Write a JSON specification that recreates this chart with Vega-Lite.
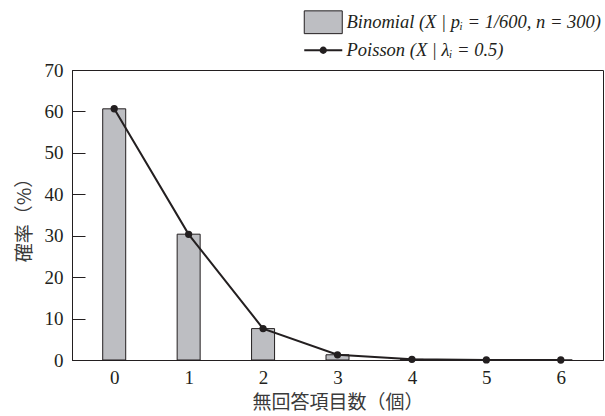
{
  "$schema": "https://vega.github.io/schema/vega-lite/v6.json",
  "autosize": "none",
  "width": 531,
  "height": 290,
  "padding": {"left": 72, "top": 70, "right": 2, "bottom": 56},
  "background": "white",
  "config": {
    "view": {"stroke": "#231f20", "strokeWidth": 1},
    "axis": {
      "labelFont": "Times New Roman",
      "labelFontSize": 19,
      "labelColor": "#231f20",
      "titleFont": "Noto Sans CJK JP",
      "titleFontSize": 19,
      "titleFontWeight": "normal",
      "titleColor": "#3a3a3a",
      "domainColor": "#231f20",
      "tickColor": "#231f20",
      "grid": false
    }
  },
  "data": {
    "values": [
      {"k": 0, "series": "Binomial (X | pᵢ = 1/600, n = 300)", "value": 60.63},
      {"k": 1, "series": "Binomial (X | pᵢ = 1/600, n = 300)", "value": 30.37},
      {"k": 2, "series": "Binomial (X | pᵢ = 1/600, n = 300)", "value": 7.58},
      {"k": 3, "series": "Binomial (X | pᵢ = 1/600, n = 300)", "value": 1.26},
      {"k": 4, "series": "Binomial (X | pᵢ = 1/600, n = 300)", "value": 0.16},
      {"k": 5, "series": "Binomial (X | pᵢ = 1/600, n = 300)", "value": 0.02},
      {"k": 6, "series": "Binomial (X | pᵢ = 1/600, n = 300)", "value": 0.0},
      {"k": 0, "series": "Poisson (X | λᵢ = 0.5)", "value": 60.65},
      {"k": 1, "series": "Poisson (X | λᵢ = 0.5)", "value": 30.33},
      {"k": 2, "series": "Poisson (X | λᵢ = 0.5)", "value": 7.58},
      {"k": 3, "series": "Poisson (X | λᵢ = 0.5)", "value": 1.26},
      {"k": 4, "series": "Poisson (X | λᵢ = 0.5)", "value": 0.16},
      {"k": 5, "series": "Poisson (X | λᵢ = 0.5)", "value": 0.02},
      {"k": 6, "series": "Poisson (X | λᵢ = 0.5)", "value": 0.0}
    ]
  },
  "encoding": {
    "x": {
      "field": "k",
      "type": "quantitative",
      "scale": {"domain": [-0.5, 6.5], "nice": false, "zero": false},
      "axis": {
        "values": [0, 1, 2, 3, 4, 5, 6],
        "format": "d",
        "ticks": false,
        "labelPadding": 8,
        "title": "無回答項目数（個）",
        "titlePadding": 6
      }
    },
    "y": {
      "field": "value",
      "type": "quantitative",
      "scale": {"domain": [0, 70], "nice": false},
      "axis": {
        "values": [0, 10, 20, 30, 40, 50, 60, 70],
        "tickSize": -13,
        "labelPadding": 22,
        "title": "確率（%）",
        "titlePadding": 10
      }
    }
  },
  "layer": [
    {
      "transform": [{"filter": "datum.series === 'Binomial (X | pᵢ = 1/600, n = 300)'"}],
      "mark": {"type": "bar", "size": 23, "stroke": "#231f20", "strokeWidth": 1, "opacity": 1},
      "encoding": {
        "fill": {
          "field": "series",
          "type": "nominal",
          "scale": {
            "domain": ["Binomial (X | pᵢ = 1/600, n = 300)", "Poisson (X | λᵢ = 0.5)"],
            "range": ["#bdbec2", "#231f20"]
          },
          "legend": {
            "title": null,
            "orient": "none",
            "legendX": 242,
            "legendY": -57,
            "padding": 0,
            "rowPadding": 5,
            "labelFont": "Times New Roman",
            "labelFontStyle": "italic",
            "labelFontSize": 18.5,
            "labelColor": "#231f20",
            "labelOffset": 14,
            "labelLimit": 400,
            "symbolSize": 1444,
            "symbolStrokeWidth": 1,
            "encode": {
              "symbols": {
                "update": {
                  "shape": {"signal": "datum.index === 0 ? 'M-1,-0.6H1V0.6H-1Z' : 'M-1,0H1M0.14,0A0.14,0.14,0,1,1,-0.14,0A0.14,0.14,0,1,1,0.14,0Z'"},
                  "strokeWidth": {"signal": "datum.index === 0 ? 1 : 2"},
                  "opacity": {"value": 1}
                }
              }
            }
          }
        }
      }
    },
    {
      "transform": [{"filter": "datum.series === 'Poisson (X | λᵢ = 0.5)'"}],
      "mark": {
        "type": "line",
        "strokeWidth": 2,
        "point": {"filled": true, "size": 28, "color": "#231f20", "opacity": 1}
      },
      "encoding": {
        "stroke": {
          "field": "series",
          "type": "nominal",
          "scale": {
            "domain": ["Binomial (X | pᵢ = 1/600, n = 300)", "Poisson (X | λᵢ = 0.5)"],
            "range": ["#231f20", "#231f20"]
          },
          "legend": {
            "title": null,
            "orient": "none",
            "legendX": 242,
            "legendY": -57,
            "padding": 0,
            "rowPadding": 5,
            "labelFont": "Times New Roman",
            "labelFontStyle": "italic",
            "labelFontSize": 18.5,
            "labelColor": "#231f20",
            "labelOffset": 14,
            "labelLimit": 400,
            "symbolSize": 1444,
            "symbolStrokeWidth": 1,
            "encode": {
              "symbols": {
                "update": {
                  "shape": {"signal": "datum.index === 0 ? 'M-1,-0.6H1V0.6H-1Z' : 'M-1,0H1M0.14,0A0.14,0.14,0,1,1,-0.14,0A0.14,0.14,0,1,1,0.14,0Z'"},
                  "strokeWidth": {"signal": "datum.index === 0 ? 1 : 2"},
                  "opacity": {"value": 1}
                }
              }
            }
          }
        }
      }
    }
  ]
}
